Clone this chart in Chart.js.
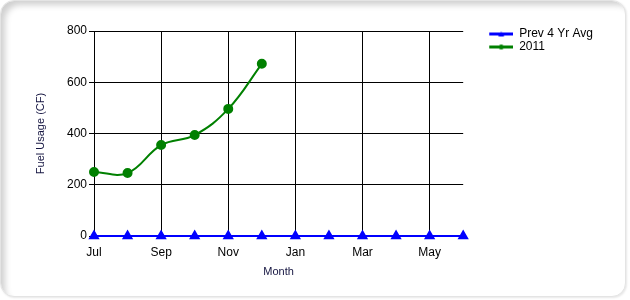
<!DOCTYPE html>
<html>
<head>
<meta charset="utf-8">
<script src="https://cdn.jsdelivr.net/npm/chart.js@4.4.1/dist/chart.umd.min.js"></script>
<style>
  html, body { margin: 0; padding: 0; background: #ffffff; }
  #wrap { position: relative; width: 630px; height: 300px; }
  #frame {
    position: absolute; left: 0; top: 0; width: 624px; height: 295px;
    border-radius: 14px; background: #ffffff;
    border: 1px solid #e4e4e4;
    box-shadow: inset 6px 6px 6px -2px #d0d0d0, 1px 1px 2px #e8e8e8;
  }
  #chart { position: absolute; left: 0; top: 0; }
</style>
</head>
<body>
<div id="wrap">
  <div id="frame"></div>
  <canvas id="chart" width="630" height="300"></canvas>
</div>
<script>
// Dati no attēla
const months = ['Jul', 'Aug', 'Sep', 'Oct', 'Nov', 'Dec', 'Jan', 'Feb', 'Mar', 'Apr', 'May', 'Jun'];
const prevAvg = [0, 0, 0, 0, 0, 0, 0, 0, 0, 0, 0, 0];
const fuel2011 = [250, 246, 355, 394, 496, 672];
const yTicks = [0, 200, 400, 600, 800];

const FONT = '"Liberation Sans", Arial, sans-serif';
const ICON_GAP = 25; // tukšums pa kreisi no leģendas ikonas

// Leģendas ikona: līnija ar marķieri vidū
function legendIcon(color, shape) {
    const c = document.createElement('canvas');
    c.width = 24 + ICON_GAP; c.height = 7;
    const g = c.getContext('2d');
    const x0 = ICON_GAP;
    g.fillStyle = color;
    g.fillRect(x0, 2, 24, 3);
    g.beginPath();
    if (shape === 'triangle') {
        g.moveTo(x0 + 12, 1); g.lineTo(x0 + 15, 6); g.lineTo(x0 + 9, 6);
    } else {
        g.arc(x0 + 12, 3.5, 2.5, 0, Math.PI * 2);
    }
    g.fill();
    return c;
}

// Tukša ass tikai atstarpei
const spacer = (pos, axis, size) => ({
    position: pos,
    axis: axis,
    display: true,
    grid: { display: false },
    border: { display: false },
    ticks: { display: false },
    afterFit: (s) => { if (axis === 'x') s.height = size; else s.width = size; }
});

const ctx = document.getElementById('chart').getContext('2d');
const chart = new Chart(ctx, {
    type: 'line',
    data: {
        labels: months,
        datasets: [{
            label: 'Prev 4 Yr Avg',
            data: prevAvg,
            borderColor: '#0000ff',
            backgroundColor: '#0000ff',
            borderWidth: 2,
            pointStyle: 'triangle',
            pointRadius: 4.5,
            pointHoverRadius: 4.5,
            tension: 0,
            clip: false,
            order: 1
        }, {
            label: '2011',
            data: fuel2011,
            borderColor: '#008000',
            backgroundColor: '#008000',
            borderWidth: 2,
            pointStyle: 'circle',
            pointRadius: 4,
            pointHoverRadius: 4,
            tension: 0.4,
            clip: false,
            order: 2
        }]
    },
    options: {
        responsive: false,
        animation: false,
        events: [],
        layout: { padding: { left: 30, top: 27, right: 27, bottom: 21 } },
        plugins: {
            tooltip: { enabled: false },
            legend: {
                position: 'right',
                align: 'start',
                labels: {
                    usePointStyle: true,
                    pointStyleWidth: 24 + ICON_GAP,
                    padding: 1,
                    color: '#000000',
                    font: { family: FONT, size: 12 },
                    generateLabels: (ch) => ch.data.datasets.map((ds, i) => ({
                        text: ds.label,
                        pointStyle: legendIcon(ds.borderColor, i === 0 ? 'triangle' : 'circle'),
                        fontColor: '#000000',
                        lineWidth: 0,
                        strokeStyle: 'transparent',
                        fillStyle: 'transparent',
                        datasetIndex: i
                    }))
                }
            }
        },
        scales: {
            x: {
                offset: false,
                afterFit: (s) => { s.height = 43; },
                grid: {
                    color: (c) => (c.index % 2 === 0 ? '#000000' : 'rgba(0,0,0,0)'),
                    lineWidth: 1,
                    drawTicks: false
                },
                border: { display: false },
                ticks: {
                    autoSkip: false,
                    maxRotation: 0,
                    padding: 9,
                    color: '#000000',
                    font: { family: FONT, size: 12 },
                    callback: function (v, i) { return i % 2 === 0 ? this.getLabelForValue(v) : ''; }
                },
                title: {
                    display: true,
                    text: 'Month',
                    color: '#141440',
                    font: { family: FONT, size: 11 },
                    padding: { top: 4, bottom: 0 }
                }
            },
            xTop: spacer('top', 'x', 4),
            y: {
                min: yTicks[0],
                max: yTicks[yTicks.length - 1],
                afterFit: (s) => { s.width = 64; },
                afterBuildTicks: (s) => { s.ticks = yTicks.map(v => ({ value: v })); },
                grid: { color: '#000000', lineWidth: 1, tickLength: 5 },
                border: { display: true, color: '#000000', width: 1 },
                ticks: {
                    padding: 2,
                    color: '#000000',
                    font: { family: FONT, size: 12 }
                },
                title: {
                    display: true,
                    text: 'Fuel Usage (CF)',
                    color: '#141440',
                    font: { family: FONT, size: 11 },
                    padding: { top: 4, bottom: 0 }
                }
            }
        }
    }
});
</script>
</body>
</html>
